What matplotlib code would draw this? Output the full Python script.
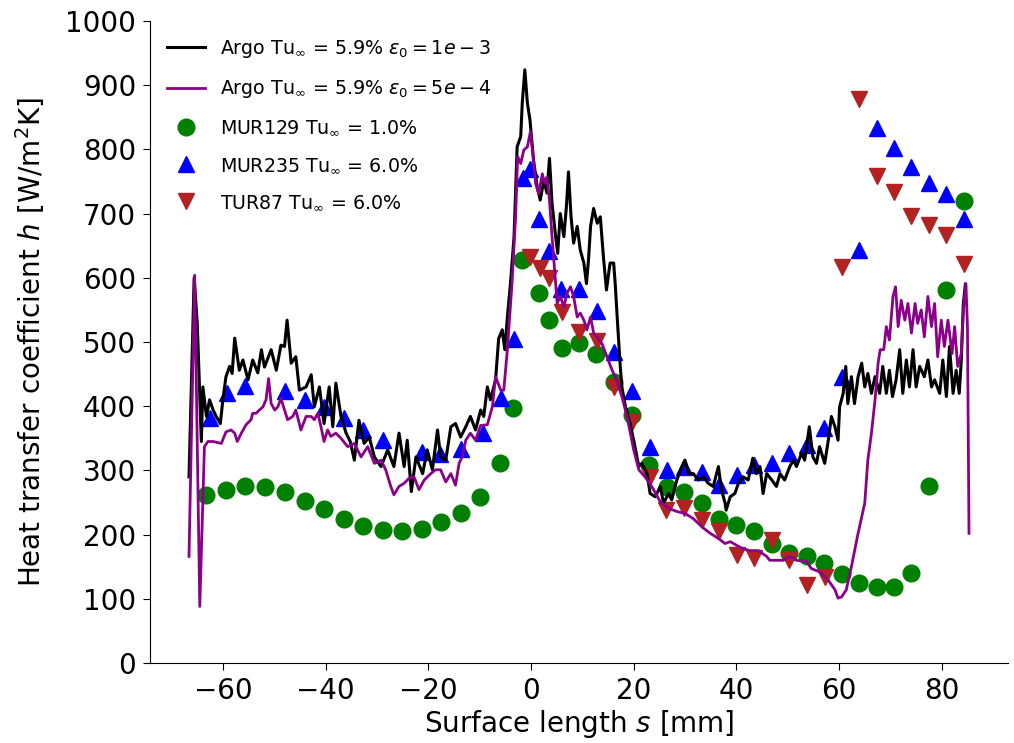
import numpy as np
import matplotlib
matplotlib.use("Agg")
import matplotlib.pyplot as plt

# ---- Argo simulation, eps0 = 1e-3 (black) ----
black_s = [-66.6, -65.6, -65.0, -64.6, -64.2, -63.9, -63.2, -62.6, -61.9, -61.3,
           -60.5, -60.0, -59.4, -58.7, -58.2, -57.7, -56.8, -56.1, -55.1, -54.2,
           -53.2, -52.5, -51.9, -50.6, -49.6, -48.7, -48.0, -47.5, -46.7, -45.8,
           -45.1, -43.8, -42.8, -42.2, -41.2, -40.3, -39.3, -38.6, -38.0, -37.0,
           -36.0, -35.2, -34.4, -33.5, -32.5, -31.5, -30.5, -29.2, -27.9, -26.7,
           -25.7, -24.7, -24.1, -23.3, -22.4, -21.1, -20.2, -19.2, -18.2, -17.6,
           -16.6, -15.6, -14.7, -13.7, -12.7, -11.8, -10.8, -9.8, -9.2, -8.5,
           -7.9, -6.9, -6.3, -5.6, -5.1, -4.6, -4.0, -3.3, -2.7, -2.0,
           -1.7, -1.2, -0.7, -0.2, 0.5, 1.2, 1.8, 2.5, 3.1, 3.6,
           4.1, 4.8, 5.2, 5.7, 6.4, 6.9, 7.3, 7.8, 8.3, 9.0,
           9.6, 10.3, 10.8, 11.2, 11.6, 12.2, 12.9, 13.5, 14.1, 14.7,
           15.4, 16.1, 16.4, 16.9, 17.4, 17.7, 18.4, 19.3, 20.0, 21.0,
           21.6, 22.6, 23.2, 24.2, 25.2, 25.8, 26.8, 27.4, 28.4, 29.4,
           30.0, 30.7, 31.6, 32.6, 33.6, 34.5, 35.5, 36.5, 37.1, 37.8,
           38.0, 38.8, 39.7, 40.4, 41.3, 42.3, 43.2, 43.9, 44.6, 45.2,
           45.9, 46.9, 47.8, 48.5, 49.4, 50.4, 51.1, 51.7, 52.7, 53.3,
           54.2, 54.9, 55.6, 56.2, 57.2, 57.9, 58.5, 59.2, 59.8, 60.1,
           60.8, 61.3, 61.7, 62.4, 63.0, 63.7, 64.4, 65.0, 65.6, 66.3,
           67.0, 67.9, 68.5, 69.2, 69.8, 70.4, 71.1, 71.8, 72.4, 73.1,
           73.7, 74.4, 75.0, 75.7, 76.6, 77.3, 78.0, 78.6, 79.6, 80.2,
           80.9, 81.5, 82.2, 82.8, 83.4, 83.8, 84.2, 84.6]
black_h = [290, 600, 530, 440, 345, 430, 384, 410, 394, 384,
           373, 410, 446, 462, 451, 506, 456, 472, 441, 472,
           452, 488, 461, 488, 456, 495, 493, 534, 467, 477,
           425, 430, 449, 399, 430, 373, 430, 368, 436, 384,
           358, 345, 316, 378, 342, 352, 321, 306, 332, 306,
           358, 306, 347, 267, 321, 295, 332, 301, 363, 321,
           316, 368, 373, 352, 368, 384, 363, 394, 384, 430,
           410, 441, 505, 519, 488, 539, 591, 664, 804, 820,
           872, 924, 872, 846, 783, 742, 721, 752, 732, 786,
           716, 664, 638, 700, 664, 711, 765, 695, 654, 680,
           643, 623, 591, 628, 680, 708, 685, 695, 633, 581,
           623, 623, 591, 524, 460, 430, 399, 373, 347, 306,
           311, 295, 264, 259, 275, 249, 264, 254, 285, 306,
           316, 295, 295, 285, 290, 280, 275, 306, 270, 249,
           238, 259, 264, 280, 290, 285, 319, 295, 306, 264,
           295, 285, 275, 295, 285, 306, 316, 306, 327, 316,
           368, 321, 311, 337, 311, 347, 384, 368, 347, 399,
           420, 462, 404, 446, 404, 446, 467, 430, 451, 420,
           446, 420, 462, 420, 456, 415, 441, 488, 420, 472,
           430, 488, 430, 462, 446, 472, 430, 441, 420, 472,
           415, 493, 420, 456, 420, 472, 560, 590]

# ---- Argo simulation, eps0 = 5e-4 (purple) ----
purple_s = [-66.6, -65.5, -64.5, -63.6, -62.9, -61.9, -60.3, -59.4, -58.4, -57.7,
            -57.2, -56.4, -55.5, -54.5, -54.2, -53.5, -52.9, -52.2, -51.6, -51.1,
            -50.6, -49.9, -49.3, -48.7, -48.0, -47.4, -46.4, -45.8, -44.8, -43.8,
            -42.8, -42.2, -41.5, -40.9, -40.3, -39.6, -39.0, -38.0, -37.0, -35.7,
            -34.4, -33.1, -31.8, -30.5, -29.2, -28.3, -27.3, -26.7, -25.7, -24.7,
            -23.7, -22.8, -21.8, -20.8, -19.5, -18.6, -17.6, -16.6, -15.6, -14.7,
            -14.0, -13.4, -12.7, -11.8, -10.8, -9.8, -8.5, -7.5, -6.9, -5.9,
            -5.3, -4.6, -3.7, -3.0, -2.6, -2.0, -1.4, -0.7, -0.1, 0.5,
            0.9, 1.5, 2.2, 2.7, 3.1, 3.6, 4.1, 4.6, 5.1, 5.7,
            6.4, 7.0, 7.7, 8.3, 9.0, 9.6, 10.3, 10.9, 11.6, 12.2,
            12.9, 13.8, 14.8, 15.8, 16.7, 17.7, 18.7, 20.0, 21.0, 22.2,
            23.5, 25.2, 26.8, 28.4, 30.0, 31.6, 33.3, 34.9, 36.5, 37.8,
            38.8, 41.0, 42.6, 44.3, 45.9, 46.5, 49.1, 50.4, 51.7, 53.7,
            54.6, 56.2, 57.9, 59.2, 59.8, 60.5, 61.4, 62.4, 63.7, 65.0,
            65.6, 66.3, 67.0, 67.6, 68.0, 68.7, 69.2, 69.8, 70.5, 71.0,
            71.5, 72.1, 72.8, 73.4, 74.1, 74.8, 75.3, 76.0, 76.6, 77.3,
            78.0, 78.6, 79.2, 79.9, 80.5, 81.2, 82.0, 82.5, 83.1, 83.8,
            84.2, 84.7, 85.0, 85.3]
purple_h = [166, 604, 88, 337, 345, 345, 342, 360, 363, 358,
            345, 358, 371, 379, 389, 389, 394, 399, 410, 443,
            404, 394, 399, 412, 394, 379, 384, 394, 363, 384,
            384, 379, 389, 368, 345, 363, 353, 358, 350, 337,
            342, 321, 337, 311, 316, 301, 275, 262, 275, 280,
            288, 290, 270, 285, 295, 301, 301, 282, 295, 277,
            311, 321, 347, 358, 347, 370, 371, 400, 446, 425,
            425, 488, 591, 695, 789, 778, 799, 804, 828, 783,
            747, 731, 762, 747, 757, 721, 664, 612, 560, 571,
            555, 576, 586, 571, 539, 545, 534, 519, 539, 514,
            508, 498, 477, 456, 441, 415, 384, 332, 301, 290,
            275, 251, 241, 236, 233, 225, 212, 202, 194, 186,
            189, 179, 175, 175, 166, 160, 160, 166, 160, 158,
            147, 142, 129, 114, 101, 103, 114, 150, 202, 249,
            316, 358, 410, 467, 488, 488, 524, 503, 571, 586,
            524, 565, 534, 560, 514, 560, 529, 550, 508, 571,
            524, 560, 477, 534, 493, 534, 482, 524, 462, 482,
            550, 591, 524, 202]

# ---- Experiments ----
mur129_s = [-63.2, -59.4, -55.6, -51.8, -48.0, -44.1, -40.4, -36.5, -32.7, -28.9,
            -25.1, -21.3, -17.5, -13.7, -9.9, -6.1, -3.6, -1.8, 1.5, 3.5,
            6.1, 9.4, 12.7, 16.2, 19.7, 23.0, 26.5, 29.8, 33.3, 36.6,
            39.9, 43.4, 46.9, 50.2, 53.7, 57.0, 60.5, 63.8, 67.3, 70.6,
            74.1, 77.5, 80.9, 84.3]
mur129_h = [262, 270, 276, 274, 266, 253, 240, 224, 214, 207,
            205, 209, 220, 234, 259, 311, 397, 628, 576, 534,
            490, 498, 481, 437, 387, 309, 274, 266, 249, 224,
            215, 205, 186, 172, 166, 155, 138, 124, 118, 119,
            140, 276, 581, 720]

mur235_s = [-62.6, -59.2, -55.6, -48.0, -44.1, -40.4, -36.5, -32.7, -28.9, -21.3,
            -17.7, -13.6, -9.4, -5.9, -3.3, -1.5, -0.1, 1.5, 3.5, 5.9,
            9.4, 12.9, 16.2, 19.7, 23.1, 26.5, 29.8, 33.3, 36.6, 40.1,
            43.4, 46.9, 50.2, 53.7, 57.0, 60.5, 63.9, 67.3, 70.7, 74.1,
            77.5, 80.9, 84.3]
mur235_h = [381, 420, 431, 423, 410, 399, 381, 363, 347, 329,
            326, 334, 359, 413, 504, 755, 769, 691, 641, 582,
            582, 549, 485, 423, 337, 301, 306, 298, 277, 293,
            308, 311, 327, 340, 366, 446, 643, 833, 802, 772,
            747, 731, 691]

tur87_s = [-0.1, 1.8, 3.5, 6.1, 9.4, 12.9, 16.1, 19.7, 23.2, 26.3,
           29.8, 33.3, 36.6, 40.1, 43.4, 46.9, 50.2, 53.7, 57.2, 60.5,
           63.9, 67.3, 70.7, 74.1, 77.5, 80.9, 84.3]
tur87_h = [633, 615, 599, 547, 516, 501, 430, 376, 290, 238,
           241, 223, 205, 168, 163, 192, 160, 121, 134, 617,
           879, 758, 734, 696, 682, 666, 621]

labels = [r'Argo Tu$_{\infty}$ = 5.9% $\varepsilon_0 = 1e-3$',
          r'Argo Tu$_{\infty}$ = 5.9% $\varepsilon_0 = 5e-4$',
          r'MUR129 Tu$_{\infty}$ = 1.0%',
          r'MUR235 Tu$_{\infty}$ = 6.0%',
          r'TUR87 Tu$_{\infty}$ = 6.0%']

fig = plt.figure(figsize=(10.14, 7.43), dpi=100)
ax = fig.add_axes([150 / 1014, 80 / 743, (1008 - 150) / 1014, (663 - 21) / 743])

l1, = ax.plot(black_s, black_h, color='black', lw=2.2, zorder=4, label=labels[0])
l2, = ax.plot(purple_s, purple_h, color='#8B008B', lw=2.0, zorder=5, label=labels[1])
m1, = ax.plot(mur129_s, mur129_h, 'o', color='green', ms=12, ls='none', zorder=2, label=labels[2])
m2, = ax.plot(mur235_s, mur235_h, '^', color='blue', ms=12, ls='none', zorder=2, label=labels[3])
m3, = ax.plot(tur87_s, tur87_h, 'v', color='firebrick', ms=12, ls='none', zorder=3, label=labels[4])

ax.set_ylim(0, 1000)
ax.set_yticks(np.arange(0, 1001, 100))
ax.set_xticks(np.arange(-60, 81, 20))
ax.tick_params(labelsize=20, length=5, pad=5)
ax.spines['top'].set_visible(False)
ax.spines['right'].set_visible(False)
ax.set_xlabel(r'Surface length $s$ [mm]', fontsize=20, labelpad=2)
ax.set_ylabel(r'Heat transfer coefficient $h$ [W/m$^2$K]', fontsize=20, labelpad=13)

ax.legend(handles=[l1, l2, m1, m2, m3], loc='upper left', frameon=False,
          fontsize=13.7, labelspacing=0.95, bbox_to_anchor=(0.0, 1.0))

fig.savefig('out.png', dpi=100)
